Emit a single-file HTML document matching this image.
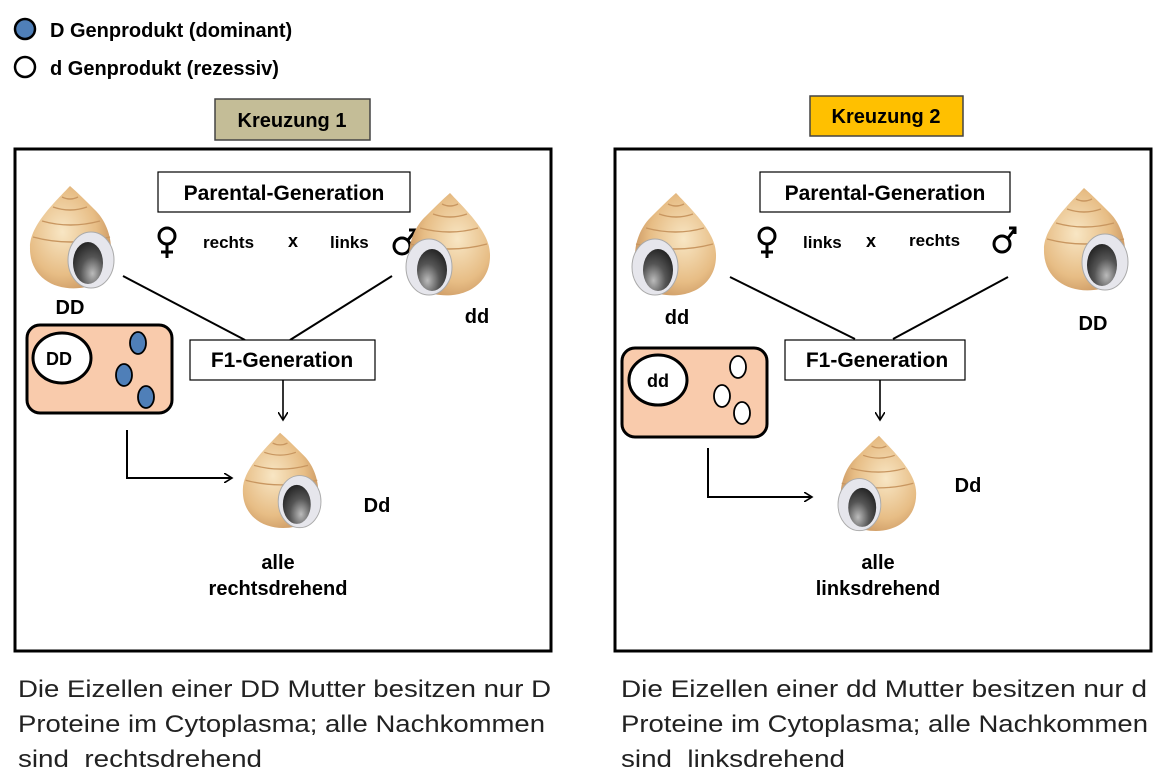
<!DOCTYPE html>
<html><head><meta charset="utf-8"><style>
body{margin:0;background:#fff;}
svg{display:block;font-family:"Liberation Sans",Arial,sans-serif;}
.b{font-weight:bold;}
</style></head><body>
<svg width="1168" height="781" viewBox="0 0 1168 781" xmlns="http://www.w3.org/2000/svg">
<defs>
<radialGradient id="shell" cx="0.4" cy="0.45" r="0.7">
<stop offset="0" stop-color="#f8e6c4"/><stop offset="0.6" stop-color="#e7bd85"/><stop offset="1" stop-color="#c18a55"/>
</radialGradient>
<radialGradient id="hole" cx="0.65" cy="0.75" r="0.8">
<stop offset="0" stop-color="#bbb"/><stop offset="0.5" stop-color="#555"/><stop offset="1" stop-color="#222"/>
</radialGradient>
<g id="snail">
<path d="M42,3 C50,10 58,18 66,26 C90,48 90,96 58,104 C30,110 1,96 2,64 C2,42 28,18 42,3 Z" fill="url(#shell)"/>
<path d="M34,14 Q42,18 50,14 M25,24 Q42,30 59,24 M14,38 Q42,46 72,38 M5,54 Q42,64 82,54" stroke="#c89660" stroke-width="1.4" fill="none"/>
<ellipse cx="63" cy="77" rx="23" ry="28" fill="#e6e6ec" stroke="#aaa" stroke-width="1"/>
<ellipse cx="60" cy="80" rx="15" ry="21" fill="url(#hole)"/>
</g>
<g id="fem" fill="none" stroke="#000" stroke-width="3">
<circle cx="0" cy="-8" r="8"/><line x1="0" y1="0" x2="0" y2="14"/><line x1="-6" y1="8" x2="6" y2="8"/>
</g>
<g id="mal" fill="none" stroke="#000" stroke-width="3">
<circle cx="-2" cy="4" r="8"/><line x1="4" y1="-2" x2="11" y2="-11"/><path d="M5,-12 L11,-12 L11,-6"/>
</g>
<marker id="ah" markerWidth="10" markerHeight="10" refX="8" refY="5" orient="auto" markerUnits="userSpaceOnUse">
<path d="M0,0 L8,5 L0,10" fill="none" stroke="#000" stroke-width="1.6"/>
</marker>
</defs>

<circle cx="25" cy="29" r="10" fill="#4f7fb8" stroke="#000" stroke-width="2.5"/>
<circle cx="25" cy="67" r="10" fill="#fff" stroke="#000" stroke-width="2.5"/>
<text x="50" y="37" class="b" font-size="20">D Genprodukt (dominant)</text>
<text x="50" y="75" class="b" font-size="20">d Genprodukt (rezessiv)</text>

<rect x="215" y="99" width="155" height="41" fill="#c4bd97" stroke="#444" stroke-width="1.5"/>
<text x="292" y="127" text-anchor="middle" class="b" font-size="20">Kreuzung 1</text>
<rect x="810" y="96" width="153" height="40" fill="#ffc000" stroke="#444" stroke-width="1.5"/>
<text x="886" y="123" text-anchor="middle" class="b" font-size="20">Kreuzung 2</text>

<rect x="15" y="149" width="536" height="502" fill="none" stroke="#000" stroke-width="3"/>
<rect x="158" y="172" width="252" height="40" fill="#fff" stroke="#000" stroke-width="1.2"/>
<text x="284" y="200" text-anchor="middle" class="b" font-size="21">Parental-Generation</text>
<use href="#fem" transform="translate(167,244)"/>
<text x="203" y="248" class="b" font-size="17">rechts</text>
<text x="288" y="247" class="b" font-size="18">x</text>
<text x="330" y="248" class="b" font-size="17">links</text>
<use href="#mal" transform="translate(404,242)"/>
<use href="#snail" transform="translate(28,183)"/>
<use href="#snail" transform="translate(492,190) scale(-1,1)"/>
<text x="70" y="314" text-anchor="middle" class="b" font-size="20">DD</text>
<text x="477" y="323" text-anchor="middle" class="b" font-size="20">dd</text>
<line x1="123" y1="276" x2="245" y2="340" stroke="#000" stroke-width="2"/>
<line x1="392" y1="276" x2="290" y2="340" stroke="#000" stroke-width="2"/>
<rect x="190" y="340" width="185" height="40" fill="#fff" stroke="#000" stroke-width="1.2"/>
<text x="282" y="367" text-anchor="middle" class="b" font-size="21">F1-Generation</text>
<line x1="283" y1="380" x2="283" y2="420" stroke="#000" stroke-width="1.6" marker-end="url(#ah)"/>
<rect x="27" y="325" width="145" height="88" rx="13" fill="#f9cbac" stroke="#000" stroke-width="3"/>
<ellipse cx="62" cy="358" rx="29" ry="25" fill="#fff" stroke="#000" stroke-width="3"/>
<text x="59" y="365" text-anchor="middle" class="b" font-size="18">DD</text>
<ellipse cx="138" cy="343" rx="8" ry="11" fill="#4f7fb8" stroke="#000" stroke-width="1.8"/>
<ellipse cx="124" cy="375" rx="8" ry="11" fill="#4f7fb8" stroke="#000" stroke-width="1.8"/>
<ellipse cx="146" cy="397" rx="8" ry="11" fill="#4f7fb8" stroke="#000" stroke-width="1.8"/>
<polyline points="127,430 127,478 232,478" fill="none" stroke="#000" stroke-width="2" marker-end="url(#ah)"/>
<use href="#snail" transform="translate(241,430) scale(0.93)"/>
<text x="377" y="512" text-anchor="middle" class="b" font-size="20">Dd</text>
<text x="278" y="569" text-anchor="middle" class="b" font-size="20">alle</text>
<text x="278" y="595" text-anchor="middle" class="b" font-size="20">rechtsdrehend</text>

<rect x="615" y="149" width="536" height="502" fill="none" stroke="#000" stroke-width="3"/>
<rect x="760" y="172" width="250" height="40" fill="#fff" stroke="#000" stroke-width="1.2"/>
<text x="885" y="200" text-anchor="middle" class="b" font-size="21">Parental-Generation</text>
<use href="#fem" transform="translate(767,244)"/>
<text x="803" y="248" class="b" font-size="17">links</text>
<text x="866" y="247" class="b" font-size="18">x</text>
<text x="909" y="246" class="b" font-size="17">rechts</text>
<use href="#mal" transform="translate(1004,240)"/>
<use href="#snail" transform="translate(718,190) scale(-1,1)"/>
<use href="#snail" transform="translate(1042,185)"/>
<text x="677" y="324" text-anchor="middle" class="b" font-size="20">dd</text>
<text x="1093" y="330" text-anchor="middle" class="b" font-size="20">DD</text>
<line x1="730" y1="277" x2="855" y2="339" stroke="#000" stroke-width="2"/>
<line x1="1008" y1="277" x2="893" y2="339" stroke="#000" stroke-width="2"/>
<rect x="785" y="340" width="180" height="40" fill="#fff" stroke="#000" stroke-width="1.2"/>
<text x="877" y="367" text-anchor="middle" class="b" font-size="21">F1-Generation</text>
<line x1="880" y1="380" x2="880" y2="420" stroke="#000" stroke-width="1.6" marker-end="url(#ah)"/>
<rect x="622" y="348" width="145" height="89" rx="13" fill="#f9cbac" stroke="#000" stroke-width="3"/>
<ellipse cx="658" cy="380" rx="29" ry="25" fill="#fff" stroke="#000" stroke-width="3"/>
<text x="658" y="387" text-anchor="middle" class="b" font-size="18">dd</text>
<ellipse cx="738" cy="367" rx="8" ry="11" fill="#fff" stroke="#000" stroke-width="1.8"/>
<ellipse cx="722" cy="396" rx="8" ry="11" fill="#fff" stroke="#000" stroke-width="1.8"/>
<ellipse cx="742" cy="413" rx="8" ry="11" fill="#fff" stroke="#000" stroke-width="1.8"/>
<polyline points="708,448 708,497 812,497" fill="none" stroke="#000" stroke-width="2" marker-end="url(#ah)"/>
<use href="#snail" transform="translate(918,433) scale(-0.93,0.93)"/>
<text x="968" y="492" text-anchor="middle" class="b" font-size="20">Dd</text>
<text x="878" y="569" text-anchor="middle" class="b" font-size="20">alle</text>
<text x="878" y="595" text-anchor="middle" class="b" font-size="20">linksdrehend</text>

<g font-size="24" fill="#222">
<text x="18" y="697" textLength="533" lengthAdjust="spacingAndGlyphs">Die Eizellen einer DD Mutter besitzen nur D</text>
<text x="18" y="732" textLength="527" lengthAdjust="spacingAndGlyphs">Proteine im Cytoplasma; alle Nachkommen</text>
<text x="18" y="767" textLength="244" lengthAdjust="spacingAndGlyphs" xml:space="preserve">sind  rechtsdrehend</text>
<text x="621" y="697" textLength="526" lengthAdjust="spacingAndGlyphs">Die Eizellen einer dd Mutter besitzen nur d</text>
<text x="621" y="732" textLength="527" lengthAdjust="spacingAndGlyphs">Proteine im Cytoplasma; alle Nachkommen</text>
<text x="621" y="767" textLength="224" lengthAdjust="spacingAndGlyphs" xml:space="preserve">sind  linksdrehend</text>
</g>
</svg>
</body></html>
